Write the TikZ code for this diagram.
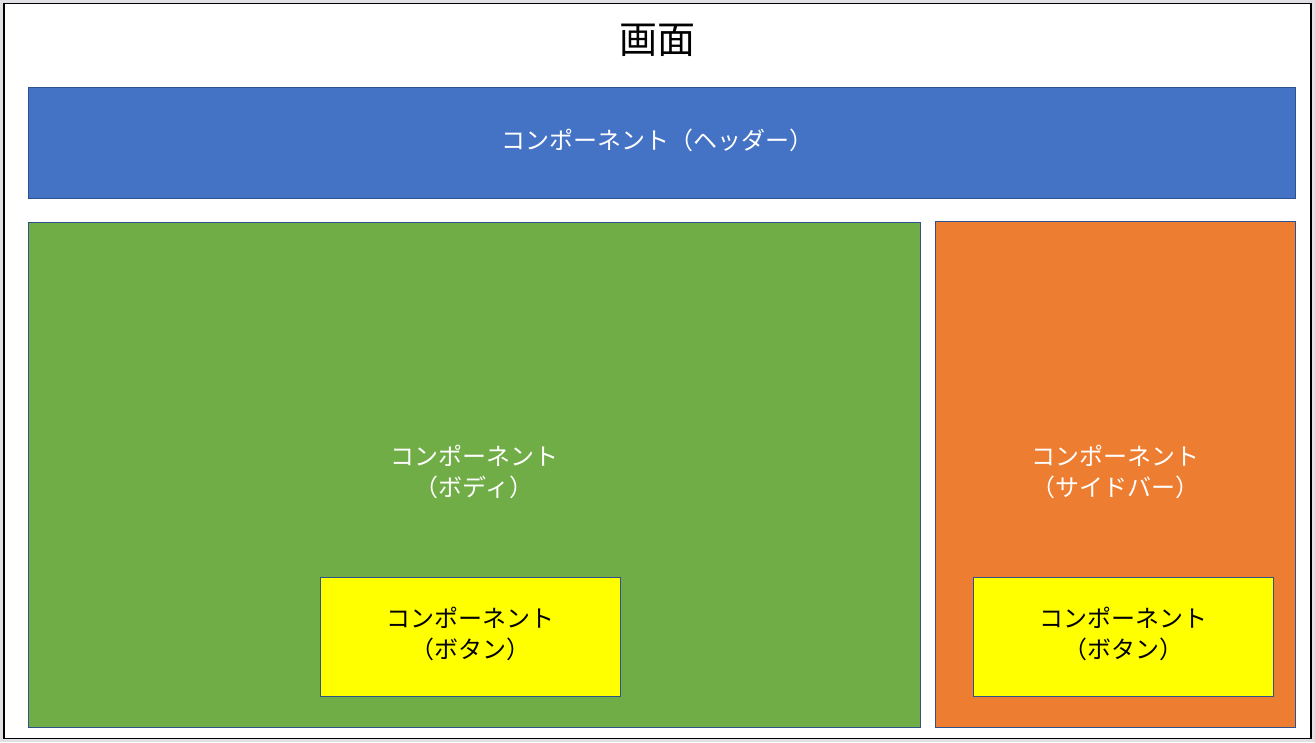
\documentclass[tikz,border=0pt]{standalone}
\usepackage{fontspec}
\newfontfamily\jp{Noto Sans CJK JP}
\definecolor{outbg}{HTML}{E1E0E4}
\definecolor{hdr}{HTML}{4472C4}
\definecolor{bdy}{HTML}{70AD47}
\definecolor{sdb}{HTML}{ED7D31}
\definecolor{btn}{HTML}{FFFF00}
\definecolor{edge}{HTML}{2F528F}
\begin{document}
\begin{tikzpicture}[x=1pt,y=-1pt,
  comp/.style={draw=edge,line width=1pt},
  lbl/.style={font=\jp\fontsize{24}{31}\selectfont,align=center,inner sep=0pt}]
\useasboundingbox (0,0) rectangle (1315,742);
\fill[outbg] (0,0) rectangle (1315,742);
\draw[fill=white,line width=1.3pt] (4,3.5) rectangle (1311,738.5);
\node[lbl,font=\jp\fontsize{38}{44}\selectfont] (title) at (657,40) {画面};
\draw[comp,fill=hdr] (28,87) rectangle (1295,198);
\node[lbl,text=white] (header) at (657,140) {コンポーネント（ヘッダー）};
\draw[comp,fill=bdy] (28,222) rectangle (920,727);
\node[lbl,text=white] (body) at (474,472) {コンポーネント\\（ボディ）};
\draw[comp,fill=sdb] (935,221) rectangle (1295,727);
\node[lbl,text=white] (side) at (1115,472) {コンポーネント\\（サイドバー）};
\draw[comp,fill=btn] (320,577) rectangle (620,696);
\node[lbl] (btna) at (470,634) {コンポーネント\\（ボタン）};
\draw[comp,fill=btn] (973,577) rectangle (1273,696);
\node[lbl] (btnb) at (1123,634) {コンポーネント\\（ボタン）};
\end{tikzpicture}
\end{document}
